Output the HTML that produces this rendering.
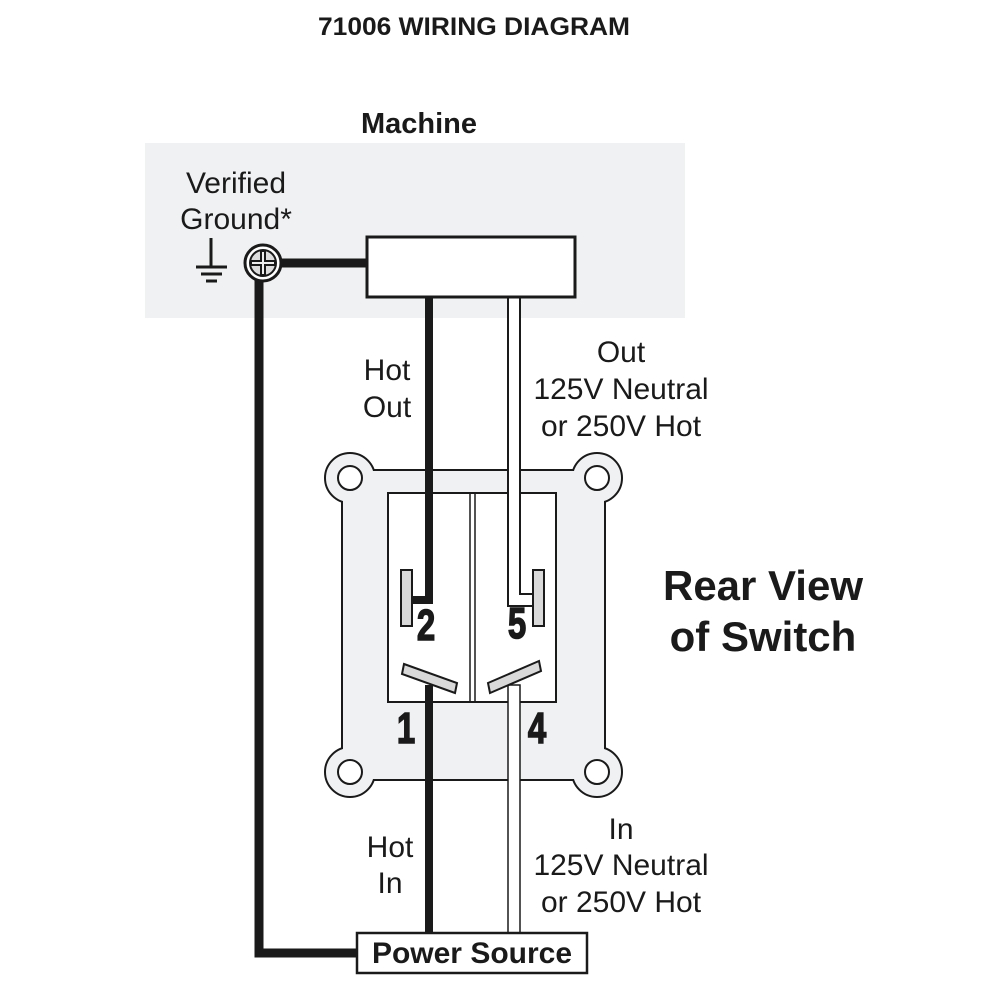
<!DOCTYPE html>
<html><head><style>
html,body{margin:0;padding:0;background:#fff;}
svg{display:block;}
text{font-family:"Liberation Sans",sans-serif;fill:#1a1a1a;}
</style></head><body>
<svg width="1000" height="1000" viewBox="0 0 1000 1000" xmlns="http://www.w3.org/2000/svg">
<rect width="1000" height="1000" fill="#fff"/>
<text x="474" y="35" font-size="25" font-weight="bold" text-anchor="middle" textLength="312" lengthAdjust="spacingAndGlyphs">71006 WIRING DIAGRAM</text>
<text x="419" y="133" font-size="29" font-weight="bold" text-anchor="middle">Machine</text>
<rect x="145" y="143" width="540" height="175" fill="#f0f1f3"/>
<text x="236" y="193" font-size="30" text-anchor="middle">Verified</text>
<text x="236" y="229" font-size="30" text-anchor="middle">Ground*</text>
<line x1="211" y1="238" x2="211" y2="266" stroke="#1a1a1a" stroke-width="3"/>
<line x1="196" y1="267" x2="227" y2="267" stroke="#1a1a1a" stroke-width="3"/>
<line x1="201" y1="274" x2="222" y2="274" stroke="#1a1a1a" stroke-width="3"/>
<line x1="206" y1="281" x2="217" y2="281" stroke="#1a1a1a" stroke-width="3"/>
<path d="M263 263 H370" stroke="#1a1a1a" stroke-width="9" fill="none"/>
<path d="M259 270 V953 H360" stroke="#1a1a1a" stroke-width="9" fill="none"/>
<g fill="#f0f1f3" stroke="#1a1a1a" stroke-width="2">
<path d="M342 470 H605 V780 H342 Z"/>
<circle cx="350" cy="478" r="25"/>
<circle cx="597" cy="478" r="25"/>
<circle cx="350" cy="772" r="25"/>
<circle cx="597" cy="772" r="25"/>
</g>
<rect x="343" y="471" width="261" height="308" fill="#f0f1f3"/>
<g fill="#fff" stroke="#1a1a1a" stroke-width="2">
<circle cx="350" cy="478" r="12"/>
<circle cx="597" cy="478" r="12"/>
<circle cx="350" cy="772" r="12"/>
<circle cx="597" cy="772" r="12"/>
<rect x="388" y="493" width="168" height="209"/>
</g>
<line x1="470" y1="493" x2="470" y2="702" stroke="#1a1a1a" stroke-width="1.5"/>
<line x1="475" y1="493" x2="475" y2="702" stroke="#1a1a1a" stroke-width="1.5"/>
<path d="M429 297 V600 H412" stroke="#1a1a1a" stroke-width="8" fill="none"/>
<path d="M429 685 V933" stroke="#1a1a1a" stroke-width="8" fill="none"/>
<path d="M514 297 V600 H533" stroke="#1a1a1a" stroke-width="14" fill="none"/>
<path d="M514 297 V600 H533" stroke="#fff" stroke-width="10" fill="none"/>
<rect x="508" y="685" width="12" height="248" fill="#fff" stroke="#1a1a1a" stroke-width="1.5"/>
<rect x="401" y="570" width="11" height="56" fill="#d9d9d9" stroke="#1a1a1a" stroke-width="2"/>
<rect x="533" y="570" width="11" height="56" fill="#d9d9d9" stroke="#1a1a1a" stroke-width="2"/>
<polygon points="404,664 457,683 455,693 402,674" fill="#d9d9d9" stroke="#1a1a1a" stroke-width="2"/>
<polygon points="488,683 539,661 541,671 490,693" fill="#d9d9d9" stroke="#1a1a1a" stroke-width="2"/>
<g font-size="44" font-weight="bold" text-anchor="middle" stroke="#1a1a1a" stroke-width="1.5">
<text x="426" y="640" transform="translate(426 0) scale(0.75 1) translate(-426 0)">2</text>
<text x="517" y="638" transform="translate(517 0) scale(0.75 1) translate(-517 0)">5</text>
<text x="406" y="743" transform="translate(406 0) scale(0.75 1) translate(-406 0)">1</text>
<text x="537" y="743" transform="translate(537 0) scale(0.75 1) translate(-537 0)">4</text>
</g>
<rect x="367" y="237" width="208" height="60" fill="#fff" stroke="#1a1a1a" stroke-width="3"/>
<circle cx="263" cy="263" r="18" fill="#fff" stroke="#1a1a1a" stroke-width="3"/>
<circle cx="263" cy="263" r="13" fill="#ddd" stroke="#1a1a1a" stroke-width="2"/>
<path d="M263 251 V275 M251 263 H275" stroke="#1a1a1a" stroke-width="6"/>
<path d="M263 252 V274 M252 263 H274" stroke="#eee" stroke-width="2"/>
<g font-size="30" text-anchor="middle">
<text x="387" y="380">Hot</text>
<text x="387" y="417">Out</text>
<text x="621" y="362">Out</text>
<text x="621" y="399">125V Neutral</text>
<text x="621" y="436">or 250V Hot</text>
<text x="390" y="857">Hot</text>
<text x="390" y="893">In</text>
<text x="621" y="839">In</text>
<text x="621" y="875">125V Neutral</text>
<text x="621" y="912">or 250V Hot</text>
</g>
<text x="763" y="600" font-size="42" font-weight="bold" text-anchor="middle">Rear View</text>
<text x="763" y="651" font-size="42" font-weight="bold" text-anchor="middle">of Switch</text>
<rect x="357" y="933" width="230" height="40" fill="#fff" stroke="#1a1a1a" stroke-width="2.5"/>
<text x="472" y="963" font-size="30" font-weight="bold" text-anchor="middle">Power Source</text>
</svg>
</body></html>
